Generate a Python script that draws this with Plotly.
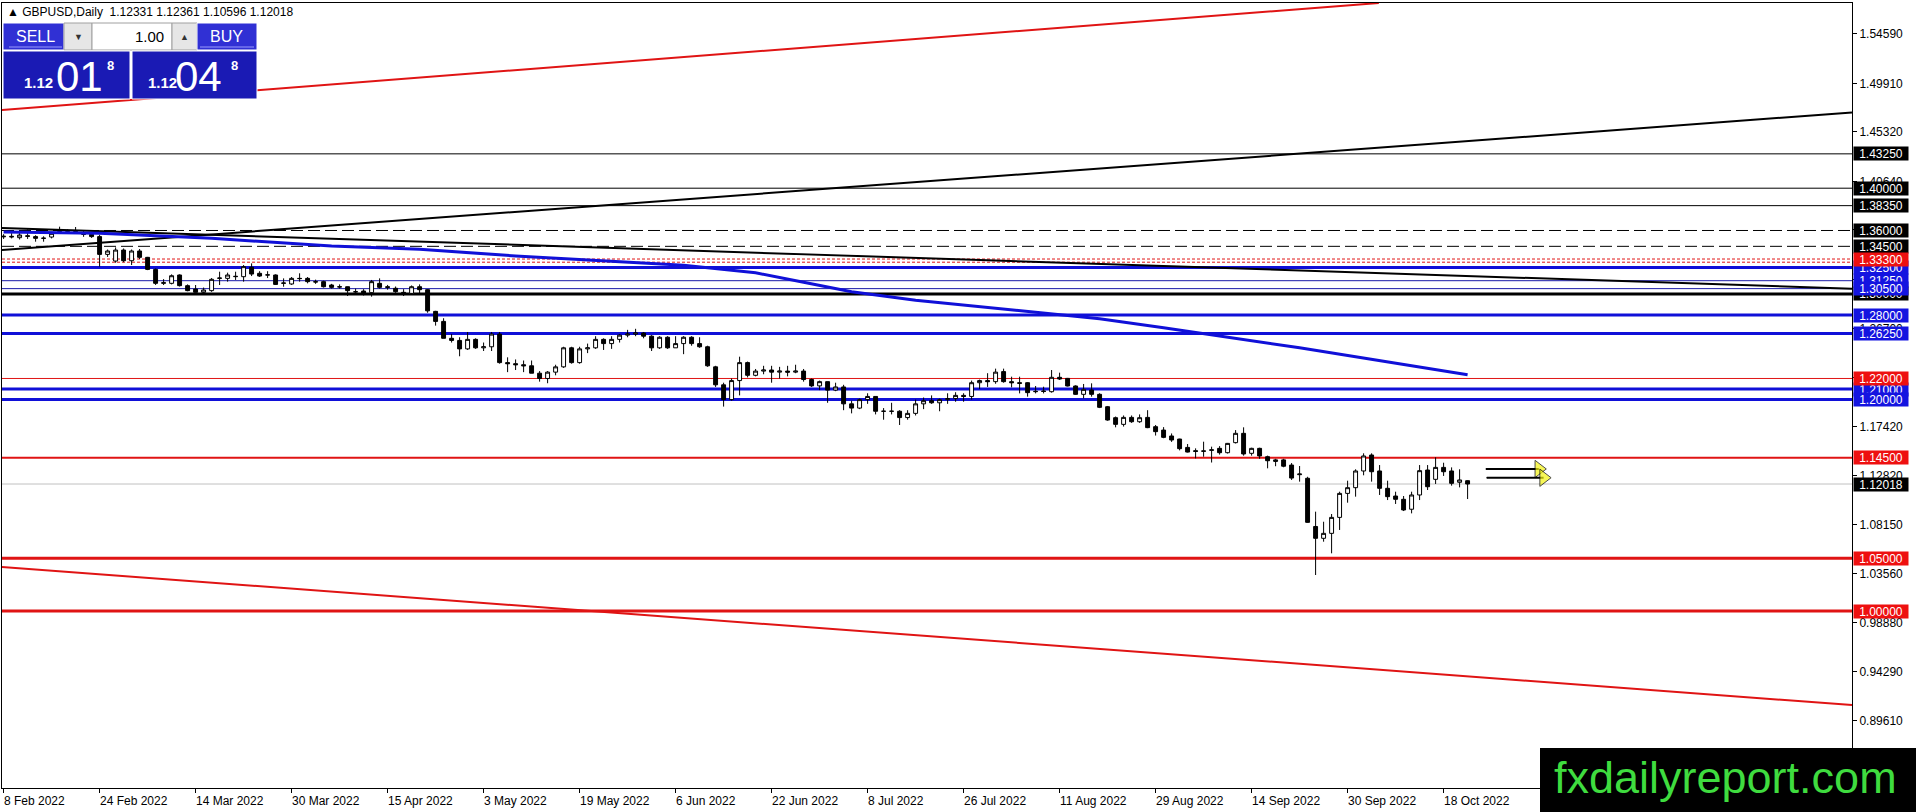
import plotly.graph_objects as go

# ---- daily GBPUSD bars, 8 Feb 2022 .. 21 Oct 2022 (weekdays) ----
opens = [
    1.3540, 1.3545, 1.3532, 1.3550, 1.3542, 1.3528, 1.3538, 1.3585, 1.3592, 1.3595,
    1.3565, 1.3564, 1.3542, 1.3374, 1.3311, 1.3415, 1.3314, 1.3406, 1.3346, 1.3232,
    1.3100, 1.3100, 1.3179, 1.3078, 1.3046, 1.3015, 1.3031, 1.3147, 1.3147, 1.3163,
    1.3163, 1.3252, 1.3195, 1.3179, 1.3179, 1.3100, 1.3094, 1.3147, 1.3147, 1.3116,
    1.3116, 1.3084, 1.3068, 1.3068, 1.3021, 1.3027, 1.3012, 1.3100, 1.3068, 1.3053,
    1.3015, 1.3005, 1.3068, 1.3040, 1.2835, 1.2740, 1.2580, 1.2560, 1.2480, 1.2570,
    1.2490, 1.2500, 1.2620, 1.2350, 1.2340, 1.2330, 1.2320, 1.2250, 1.2200, 1.2260,
    1.2310, 1.2490, 1.2350, 1.2480, 1.2490, 1.2570, 1.2530, 1.2570, 1.2610, 1.2620,
    1.2630, 1.2600, 1.2490, 1.2590, 1.2490, 1.2530, 1.2590, 1.2530, 1.2500, 1.2310,
    1.2140, 1.2000, 1.2180, 1.2350, 1.2230, 1.2270, 1.2280, 1.2260, 1.2270, 1.2260,
    1.2270, 1.2190, 1.2130, 1.2170, 1.2090, 1.2120, 1.1960, 1.1920, 1.2000, 1.2030,
    1.1890, 1.1890, 1.1890, 1.1830, 1.1870, 1.1960, 1.1990, 1.1970, 1.2000, 1.2010,
    1.2040, 1.2030, 1.2160, 1.2180, 1.2170, 1.2265, 1.2170, 1.2160, 1.2160, 1.2075,
    1.2081, 1.2075, 1.2211, 1.2201, 1.2129, 1.2050, 1.2091, 1.2050, 1.1933, 1.1829,
    1.1766, 1.1832, 1.1791, 1.1832, 1.1744, 1.1712, 1.1656, 1.1627, 1.1548, 1.1517,
    1.1515, 1.1520, 1.1539, 1.1498, 1.1593, 1.1681, 1.1492, 1.1539, 1.1460, 1.1415,
    1.1430, 1.1381, 1.1290, 1.1256, 1.0800, 1.0688, 1.0735, 1.0886, 1.1113, 1.1167,
    1.1325, 1.1476, 1.1325, 1.1161, 1.1088, 1.1057, 1.0963, 1.1098, 1.1334, 1.1246,
    1.1359, 1.1325, 1.1218, 1.12331,
]
highs = [
    1.3565, 1.3575, 1.3600, 1.3610, 1.3555, 1.3545, 1.3585, 1.3636, 1.3610, 1.3633,
    1.3600, 1.3580, 1.3560, 1.3420, 1.3440, 1.3430, 1.3420, 1.3425, 1.3350, 1.3240,
    1.3140, 1.3185, 1.3185, 1.3090, 1.3084, 1.3060, 1.3150, 1.3210, 1.3201, 1.3210,
    1.3273, 1.3289, 1.3215, 1.3215, 1.3185, 1.3147, 1.3160, 1.3195, 1.3160, 1.3135,
    1.3125, 1.3095, 1.3090, 1.3070, 1.3050, 1.3045, 1.3132, 1.3147, 1.3085, 1.3070,
    1.3045, 1.3080, 1.3090, 1.3045, 1.2840, 1.2770, 1.2620, 1.2590, 1.2640, 1.2580,
    1.2540, 1.2640, 1.2640, 1.2400, 1.2380, 1.2370, 1.2370, 1.2270, 1.2270, 1.2330,
    1.2500, 1.2500, 1.2500, 1.2530, 1.2600, 1.2580, 1.2600, 1.2620, 1.2660, 1.2670,
    1.2640, 1.2610, 1.2600, 1.2600, 1.2600, 1.2600, 1.2600, 1.2590, 1.2510, 1.2320,
    1.2160, 1.2200, 1.2406, 1.2360, 1.2290, 1.2320, 1.2320, 1.2310, 1.2320, 1.2330,
    1.2290, 1.2200, 1.2180, 1.2170, 1.2160, 1.2140, 1.1990, 1.2010, 1.2060, 1.2030,
    1.1920, 1.1970, 1.1900, 1.1900, 1.2000, 1.2020, 1.2040, 1.2010, 1.2060, 1.2070,
    1.2060, 1.2180, 1.2190, 1.2250, 1.2293, 1.2293, 1.2217, 1.2217, 1.2165, 1.2129,
    1.2122, 1.2280, 1.2255, 1.2205, 1.2135, 1.2148, 1.2154, 1.2060, 1.1940, 1.1840,
    1.1850, 1.1850, 1.1860, 1.1900, 1.1760, 1.1740, 1.1680, 1.1630, 1.1580, 1.1539,
    1.1602, 1.1555, 1.1560, 1.1590, 1.1712, 1.1738, 1.1545, 1.1545, 1.1470, 1.1440,
    1.1440, 1.1400, 1.1372, 1.1270, 1.0940, 1.0845, 1.0918, 1.1129, 1.1233, 1.1341,
    1.1492, 1.1492, 1.1381, 1.1233, 1.1129, 1.1088, 1.1129, 1.1381, 1.1381, 1.1454,
    1.1403, 1.1359, 1.1341, 1.12361,
]
lows = [
    1.3520, 1.3525, 1.3515, 1.3520, 1.3494, 1.3494, 1.3525, 1.3570, 1.3570, 1.3575,
    1.3540, 1.3530, 1.3258, 1.3350, 1.3295, 1.3300, 1.3273, 1.3330, 1.3225, 1.3085,
    1.3084, 1.3090, 1.3070, 1.3025, 1.3012, 1.2999, 1.3020, 1.3084, 1.3116, 1.3132,
    1.3116, 1.3169, 1.3160, 1.3150, 1.3085, 1.3068, 1.3085, 1.3116, 1.3100, 1.3095,
    1.3060, 1.3050, 1.3050, 1.2980, 1.2995, 1.2985, 1.2974, 1.3050, 1.3040, 1.3010,
    1.2980, 1.2995, 1.3000, 1.2822, 1.2700, 1.2580, 1.2540, 1.2410, 1.2470, 1.2480,
    1.2460, 1.2460, 1.2340, 1.2260, 1.2280, 1.2260, 1.2250, 1.2170, 1.2155, 1.2230,
    1.2300, 1.2340, 1.2340, 1.2440, 1.2480, 1.2470, 1.2480, 1.2540, 1.2590, 1.2600,
    1.2580, 1.2460, 1.2480, 1.2480, 1.2490, 1.2430, 1.2510, 1.2490, 1.2310, 1.2120,
    1.1934, 1.1990, 1.2040, 1.2210, 1.2220, 1.2240, 1.2160, 1.2200, 1.2220, 1.2250,
    1.2170, 1.2120, 1.2090, 1.1970, 1.2080, 1.1900, 1.1870, 1.1910, 1.1960, 1.1860,
    1.1810, 1.1860, 1.1760, 1.1810, 1.1850, 1.1910, 1.1960, 1.1890, 1.1960, 1.1980,
    1.1980, 1.2000, 1.2100, 1.2120, 1.2150, 1.2160, 1.2116, 1.2059, 1.2028, 1.2059,
    1.2059, 1.2066, 1.2186, 1.2125, 1.2045, 1.2012, 1.2028, 1.1920, 1.1800, 1.1738,
    1.1745, 1.1780, 1.1780, 1.1730, 1.1660, 1.1635, 1.1600, 1.1520, 1.1500, 1.1444,
    1.1460, 1.1405, 1.1480, 1.1490, 1.1585, 1.1470, 1.1470, 1.1440, 1.1350, 1.1370,
    1.1360, 1.1240, 1.1224, 1.0835, 1.0341, 1.0656, 1.0546, 1.0767, 1.1025, 1.1082,
    1.1284, 1.1224, 1.1098, 1.1050, 1.1013, 1.0946, 1.0924, 1.1050, 1.1145, 1.1202,
    1.1278, 1.1186, 1.1170, 1.10596,
]
closes = [
    1.3545, 1.3540, 1.3557, 1.3545, 1.3526, 1.3526, 1.3573, 1.3589, 1.3595, 1.3592,
    1.3564, 1.3542, 1.3374, 1.3406, 1.3415, 1.3314, 1.3406, 1.3346, 1.3232, 1.3100,
    1.3106, 1.3172, 1.3078, 1.3031, 1.3015, 1.3037, 1.3138, 1.3150, 1.3179, 1.3166,
    1.3258, 1.3188, 1.3169, 1.3180, 1.3090, 1.3103, 1.3147, 1.3145, 1.3116, 1.3113,
    1.3068, 1.3062, 1.3066, 1.3031, 1.3020, 1.3005, 1.3116, 1.3062, 1.3062, 1.3021,
    1.3005, 1.3068, 1.3040, 1.2840, 1.2740, 1.2580, 1.2560, 1.2480, 1.2570, 1.2490,
    1.2500, 1.2620, 1.2350, 1.2340, 1.2330, 1.2320, 1.2250, 1.2200, 1.2260, 1.2310,
    1.2490, 1.2350, 1.2480, 1.2490, 1.2570, 1.2530, 1.2570, 1.2610, 1.2620, 1.2630,
    1.2600, 1.2490, 1.2590, 1.2490, 1.2530, 1.2590, 1.2530, 1.2500, 1.2320, 1.2140,
    1.2000, 1.2180, 1.2350, 1.2230, 1.2270, 1.2280, 1.2260, 1.2270, 1.2260, 1.2270,
    1.2190, 1.2130, 1.2170, 1.2090, 1.2120, 1.1960, 1.1920, 1.2000, 1.2030, 1.1890,
    1.1890, 1.1890, 1.1830, 1.1870, 1.1960, 1.1990, 1.1970, 1.2000, 1.2010, 1.2040,
    1.2030, 1.2160, 1.2180, 1.2170, 1.2260, 1.2170, 1.2160, 1.2154, 1.2066, 1.2078,
    1.2078, 1.2211, 1.2195, 1.2129, 1.2050, 1.2097, 1.2050, 1.1927, 1.1807, 1.1766,
    1.1832, 1.1791, 1.1829, 1.1735, 1.1697, 1.1643, 1.1618, 1.1536, 1.1504, 1.1510,
    1.1512, 1.1525, 1.1498, 1.1586, 1.1681, 1.1486, 1.1539, 1.1467, 1.1422, 1.1430,
    1.1370, 1.1258, 1.1296, 1.0839, 1.0688, 1.0735, 1.0886, 1.1113, 1.1167, 1.1325,
    1.1467, 1.1318, 1.1161, 1.1082, 1.1057, 1.0956, 1.1098, 1.1328, 1.1176, 1.1359,
    1.1318, 1.1208, 1.1240, 1.12018,
]
bar_index = list(range(len(opens)))

date_tick_bars = [0, 12, 24, 36, 48, 60, 72, 84, 96, 108, 120, 132, 144, 156, 168, 180]
date_tick_text = [
    "8 Feb 2022", "24 Feb 2022", "14 Mar 2022", "30 Mar 2022", "15 Apr 2022",
    "3 May 2022", "19 May 2022", "6 Jun 2022", "22 Jun 2022", "8 Jul 2022",
    "26 Jul 2022", "11 Aug 2022", "29 Aug 2022", "14 Sep 2022", "30 Sep 2022",
    "18 Oct 2022",
]

price_ticks = [1.54590, 1.49910, 1.45320, 1.40640, 1.36050, 1.31370, 1.26700,
               1.22100, 1.17420, 1.12820, 1.08150, 1.03560, 0.98880, 0.94290, 0.89610]

# moving average (bar, price)
ma_bars = [0, 12, 26, 41, 52, 64, 85, 94, 100, 106, 114, 122, 129, 137, 145, 162, 183]
ma_vals = [1.3585, 1.3574, 1.3526, 1.3453, 1.3422, 1.3359, 1.3270, 1.3200, 1.3110,
           1.3020, 1.2940, 1.2880, 1.2825, 1.2765, 1.2680, 1.2490, 1.2235]

# trend lines (bar, price) pairs
red_upper_bars, red_upper_vals = [-0.2, 171.9], [1.4740, 1.5752]
black_rise_bars, black_rise_vals = [-0.2, 231.05], [1.3415, 1.4716]
black_fall_bars, black_fall_vals = [-0.2, 231.05], [1.3624, 1.3050]
red_lower_bars, red_lower_vals = [-0.2, 231.05], [1.0416, 0.9111]

# horizontal levels
level_prices = [1.4325, 1.4000, 1.3835, 1.3600, 1.3450, 1.3330, 1.3300, 1.3250, 1.3125,
                1.3050, 1.3000, 1.2800, 1.2625, 1.2200, 1.2100, 1.2000, 1.1450, 1.0500,
                1.0000, 1.12018]
level_kinds = ["k", "k", "k", "kdash", "kdash", "rdot", "rdot", "B", "b",
               "b", "K", "B", "B", "r", "B", "B", "R2", "R", "R", "cur"]

# price-scale tags, in drawing order
tag_prices = [1.4325, 1.4000, 1.3835, 1.3600, 1.3450, 1.3000, 1.3125, 1.3050, 1.3250,
              1.3330, 1.2800, 1.2625, 1.2100, 1.2200, 1.2000, 1.1450, 1.12018, 1.0500, 1.0000]
tag_colors = ["black", "black", "black", "black", "black", "black", "blue", "blue", "blue",
              "red", "blue", "blue", "blue", "red", "blue", "red", "black", "red", "red"]

arrow_bars = [[185.3, 191.9], [185.4, 192.5]]
arrow_vals = [1.1344, 1.1261]

W, H = 1916, 812
ML, MR, MT, MB = 2, 64, 3, 24
PW, PH = W - ML - MR, H - MT - MB
FONT = "Liberation Sans"
RED = "#e01414"
BLUE = "#1010d8"
TAGBG = {"black": "#000000", "red": "#ee1010", "blue": "#1414e0"}


def fx(px):
    return (px - ML) / PW


def fy(py):
    return (H - MB - py) / PH


fig = go.Figure()

fig.add_trace(go.Candlestick(
    x=bar_index, open=opens, high=highs, low=lows, close=closes,
    increasing=dict(line=dict(color="black", width=1), fillcolor="white"),
    decreasing=dict(line=dict(color="black", width=1), fillcolor="black"),
    whiskerwidth=0, showlegend=False, hoverinfo="skip",
))

for bx, by, col, w in [
    (red_upper_bars, red_upper_vals, RED, 2),
    (black_rise_bars, black_rise_vals, "black", 2),
    (black_fall_bars, black_fall_vals, "black", 2),
    (red_lower_bars, red_lower_vals, RED, 2),
]:
    fig.add_trace(go.Scatter(x=bx, y=by, mode="lines", line=dict(color=col, width=w),
                             showlegend=False, hoverinfo="skip"))

fig.add_trace(go.Scatter(x=ma_bars, y=ma_vals, mode="lines", line=dict(color=BLUE, width=3),
                         showlegend=False, hoverinfo="skip"))

for bx, v in zip(arrow_bars, arrow_vals):
    fig.add_trace(go.Scatter(x=bx, y=[v, v], mode="lines+markers",
                             line=dict(color="black", width=2),
                             marker=dict(symbol=["line-ew", "triangle-right"], size=[1, 15],
                                         color="#f4f410", line=dict(color="black", width=1)),
                             showlegend=False, hoverinfo="skip"))

styles = {
    "k": dict(color="black", width=1),
    "kdash": dict(color="black", width=1, dash="12px,5px"),
    "rdot": dict(color=RED, width=1, dash="3px,2px"),
    "B": dict(color=BLUE, width=3),
    "b": dict(color="#1a1aa8", width=1),
    "K": dict(color="black", width=3),
    "r": dict(color=RED, width=1),
    "R2": dict(color=RED, width=2),
    "R": dict(color=RED, width=3),
    "cur": dict(color="#c0c0c0", width=1),
}
shapes = []
for p, k in zip(level_prices, level_kinds):
    shapes.append(dict(type="line", xref="paper", x0=0, x1=1, yref="y", y0=p, y1=p,
                       line=styles[k], layer="below"))

annotations = []
for p, c in zip(tag_prices, tag_colors):
    annotations.append(dict(x=1, xref="paper", xanchor="left", xshift=1, y=p, yref="y",
                            text=f"{p:.5f}", showarrow=False, width=54, height=13,
                            align="center", borderpad=0, bgcolor=TAGBG[c],
                            font=dict(family=FONT, size=12, color="white")))

for b, t in zip(date_tick_bars, date_tick_text):
    annotations.append(dict(x=b, xref="x", xanchor="left", xshift=-2, y=0, yref="paper",
                            yanchor="top", yshift=-4, text=t, showarrow=False,
                            font=dict(family=FONT, size=12, color="black")))

# header
annotations.append(dict(x=fx(5), y=fy(12), xref="paper", yref="paper", xanchor="left",
                        yanchor="middle", showarrow=False,
                        text="\u25b2 GBPUSD,Daily  1.12331 1.12361 1.10596 1.12018",
                        font=dict(family=FONT, size=12, color="black")))

# one-click trading panel
TOP_BLUE = "#3030d4"
LOW_BLUE = "#1a1ab4"
panel = [
    (3, 23, 64, 50, TOP_BLUE, "white"),
    (64, 23, 92, 50, "#e6e6e6", "#a0a0a0"),
    (92, 23, 172, 50, "white", "#a0a0a0"),
    (172, 23, 197, 50, "#e6e6e6", "#a0a0a0"),
    (197, 23, 257, 50, TOP_BLUE, "white"),
    (3, 51, 130, 99, LOW_BLUE, "white"),
    (132, 51, 257, 99, LOW_BLUE, "white"),
]
for x0, y0, x1, y1, fc, lc in panel:
    shapes.append(dict(type="rect", xref="paper", yref="paper", x0=fx(x0), x1=fx(x1),
                       y0=fy(y1), y1=fy(y0), fillcolor=fc, line=dict(color=lc, width=1),
                       layer="above"))
for x0, x1 in [(9, 62), (200, 254)]:
    shapes.append(dict(type="line", xref="paper", yref="paper", x0=fx(x0), x1=fx(x1),
                       y0=fy(47), y1=fy(47), line=dict(color="#9a9aff", width=1),
                       layer="above"))

panel_text = [
    (35, 37, "SELL", 16, "white", "center", False),
    (226, 37, "BUY", 16, "white", "center", False),
    (166, 37, "1.00", 15, "black", "right", False),
    (78, 37, "\u25bc", 9, "#333333", "center", False),
    (184, 37, "\u25b2", 9, "#333333", "center", False),
    (38, 83, "1.12", 15, "white", "center", True),
    (79, 77, "01", 42, "white", "center", False),
    (110, 66, "8", 13, "white", "center", True),
    (162, 83, "1.12", 15, "white", "center", True),
    (198, 77, "04", 42, "white", "center", False),
    (235, 66, "8", 13, "white", "center", True),
]
for px, py, t, s, c, anc, bold in panel_text:
    annotations.append(dict(x=fx(px), y=fy(py), xref="paper", yref="paper", xanchor=anc,
                            yanchor="middle", showarrow=False,
                            text=f"<b>{t}</b>" if bold else t,
                            font=dict(family=FONT, size=s, color=c)))

# watermark
shapes.append(dict(type="rect", xref="paper", yref="paper", x0=fx(1540), x1=fx(1920),
                   y0=fy(815), y1=fy(748), fillcolor="black", line=dict(width=0),
                   layer="above"))
annotations.append(dict(x=fx(1725), y=fy(777), xref="paper", yref="paper", xanchor="center",
                        yanchor="middle", showarrow=False, text="fxdailyreport.com",
                        font=dict(family=FONT, size=45, color="#3fdc3f")))

fig.update_layout(
    width=W, height=H,
    margin=dict(l=ML, r=MR, t=MT, b=MB),
    paper_bgcolor="white", plot_bgcolor="white",
    shapes=shapes, annotations=annotations,
    showlegend=False, hovermode=False,
    xaxis=dict(range=[-0.2, 231.05], showgrid=False, zeroline=False,
               rangeslider=dict(visible=False),
               tickvals=date_tick_bars, ticktext=[""] * len(date_tick_bars),
               ticks="outside", ticklen=4, tickcolor="black",
               showline=True, linecolor="black", linewidth=1, mirror=True),
    yaxis=dict(range=[0.8326, 1.5752], side="right", showgrid=False, zeroline=False,
               tickvals=price_ticks, ticktext=[f"{v:.5f}" for v in price_ticks],
               ticks="outside", ticklen=4, tickcolor="black",
               tickfont=dict(family=FONT, size=12, color="black"),
               showline=True, linecolor="black", linewidth=1, mirror=True),
)

# the page body has a default margin; drop it so the figure sits at the window corner
fig.write_html("out.html", config={"displayModeBar": False},
               post_script="document.body.style.margin='0';")
